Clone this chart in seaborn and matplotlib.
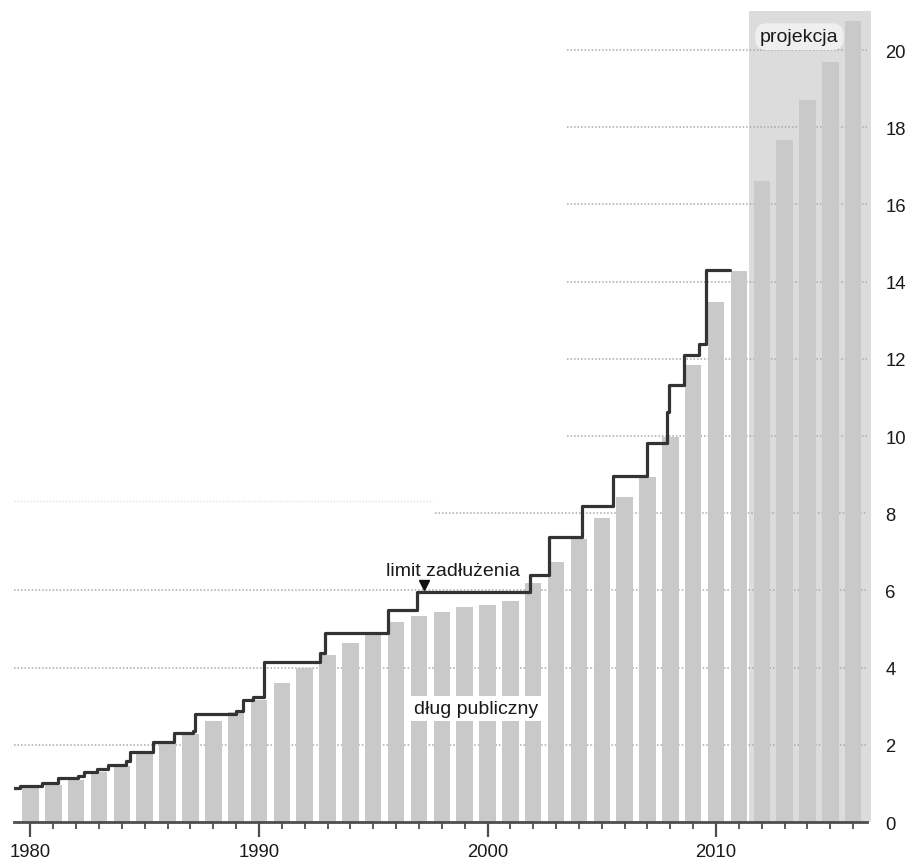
import matplotlib
matplotlib.use("Agg")
import matplotlib.pyplot as plt
import seaborn as sns
import pandas as pd

# Public debt (trillions) by year; 2012-2016 are projections
years = list(range(1980, 2017))
debt = [0.89, 0.95, 1.08, 1.30, 1.46, 1.80, 2.03, 2.29, 2.63, 2.85,
        3.15, 3.61, 3.99, 4.32, 4.64, 4.84, 5.19, 5.35, 5.45, 5.58,
        5.62, 5.72, 6.18, 6.74, 7.34, 7.88, 8.42, 8.93, 9.98, 11.83,
        13.48, 14.27, 16.60, 17.66, 18.70, 19.69, 20.75]

# Statutory debt limit: each value holds from its date until the next one
limit_dates = [1979.30, 1979.55, 1980.50, 1981.20, 1982.10, 1982.35, 1982.90,
               1983.40, 1984.20, 1984.35, 1985.35, 1986.30, 1987.10, 1987.20,
               1988.98, 1989.30, 1989.75, 1990.20, 1992.66, 1992.90, 1995.65,
               1996.91, 2001.84, 2002.71, 2004.14, 2005.48, 2007.00, 2007.85,
               2007.95, 2008.62, 2009.24, 2009.57, 2010.59]
limit_values = [0.87, 0.94, 1.00, 1.13, 1.20, 1.30, 1.37,
                1.49, 1.57, 1.82, 2.08, 2.30, 2.35, 2.80,
                2.87, 3.16, 3.24, 4.15, 4.37, 4.90, 5.50,
                5.95, 6.40, 7.38, 8.18, 8.97, 9.82, 10.62,
                11.32, 12.10, 12.39, 14.29, 14.29]

y_ticks = [0, 2, 4, 6, 8, 10, 12, 14, 16, 18, 20]
x_major = [1980, 1990, 2000, 2010]
projection_span = (2011.45, 2016.8)

label_limit = "limit zadłużenia"
label_debt = "dług publiczny"
label_proj = "projekcja"

sns.set_style("white")
plt.rcParams["font.family"] = ["Liberation Sans", "DejaVu Sans"]

fig = plt.figure(figsize=(9.1, 8.62), dpi=100)
ax = fig.add_axes([0.0159, 0.0452, 0.9417, 0.9493])

# shaded projection period
ax.fill_between(list(projection_span), 0, 21.0, color="#dcdcdc", lw=0, zorder=0)

# dotted horizontal guides
grid_kw = dict(colors="#a9a9a9", linestyles=(0, (1, 1.3)), linewidth=1.1, zorder=0.5)
ax.hlines([2, 4, 6], 1979.3, 2016.6, **grid_kw)
ax.hlines([8], 1997.7, 2016.6, **grid_kw)
ax.hlines([10, 12, 14, 16, 18, 20], 2003.5, 2016.6, **grid_kw)
ax.hlines([8.32], 1979.3, 1997.6, colors="#e2e2e2", linestyles=(0, (1, 1.3)),
          linewidth=1.0, zorder=0.5)

df = pd.DataFrame({"rok": years, "dlug": debt})
sns.barplot(data=df, x="rok", y="dlug", native_scale=True, width=0.72,
            color="#c9c9c9", saturation=1, edgecolor="none", ax=ax, zorder=1)

lim = pd.DataFrame({"data": limit_dates, "limit": limit_values})
sns.lineplot(data=lim, x="data", y="limit", drawstyle="steps-post",
             color="#333333", linewidth=2.3, ax=ax, zorder=3, sort=False)

# annotations
ax.plot([1997.22], [6.14], marker="v", color="#111111", ms=7, ls="none", zorder=4)
ax.text(1998.49, 6.41, label_limit, ha="center", va="baseline", fontsize=14,
        color="#1a1a1a", zorder=5)
ax.text(1999.5, 2.82, label_debt, ha="center", va="baseline", fontsize=14,
        color="#1a1a1a", zorder=5,
        bbox=dict(boxstyle="square,pad=0.2", fc="white", ec="none"))
ax.text(2013.65, 20.23, label_proj, ha="center", va="baseline", fontsize=14,
        color="#1a1a1a", zorder=5,
        bbox=dict(boxstyle="round,pad=0.25,rounding_size=0.6", fc="#efefef", ec="none"))

ax.set_xlim(1979.3, 2016.8)
ax.set_ylim(0, 21.2)

ax.set_xticks(x_major)
ax.set_xticklabels([str(y) for y in x_major])
ax.set_xticks(years, minor=True)
ax.tick_params(axis="x", which="major", direction="out", length=11, width=1.6,
               color="#4d4d4d", pad=4, labelsize=13.3, labelcolor="#1a1a1a", bottom=True)
ax.tick_params(axis="x", which="minor", direction="out", length=5, width=1.3,
               color="#4d4d4d", bottom=True)

ax.yaxis.tick_right()
ax.set_yticks(y_ticks)
ax.set_yticklabels([str(v) for v in y_ticks])
ax.tick_params(axis="y", length=0, pad=10, labelsize=13.3, labelcolor="#1a1a1a",
               right=True, left=False)

ax.set_xlabel("")
ax.set_ylabel("")
for side in ("top", "left", "right"):
    ax.spines[side].set_visible(False)
ax.spines["bottom"].set_color("#4d4d4d")
ax.spines["bottom"].set_linewidth(2.0)
ax.spines["bottom"].set_bounds(1979.3, 2016.6)
ax.grid(False)

fig.savefig("out.png", dpi=100)
